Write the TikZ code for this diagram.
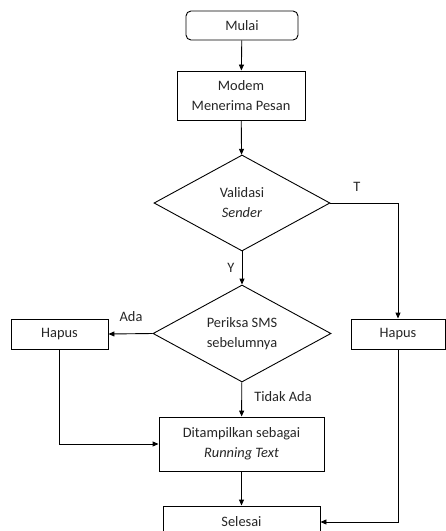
\documentclass[tikz,border=0pt]{standalone}
\usepackage{fontspec}
\setmainfont{Carlito}
\usetikzlibrary{shapes.geometric,arrows.meta}
\begin{document}
\begin{tikzpicture}[x=1pt,y=-1pt,
  every node/.style={font=\fontsize{14.4}{20}\selectfont, text=black!85},
  box/.style={draw, line width=0.9pt, inner sep=0pt, align=center},
  dia/.style={draw, line width=0.9pt, diamond, inner sep=0pt, align=center},
  lbl/.style={inner sep=0pt},
  link/.style={draw, line width=0.9pt, -{Triangle[length=6pt,width=5pt]}}]
\useasboundingbox (0,0) rectangle (446,531);
\clip (0,0) rectangle (446,531);
\node[box, rounded corners=5pt, minimum width=112pt, minimum height=29pt] (mulai) at (242,25.5) {Mulai};
\node[box, minimum width=128pt, minimum height=49pt] (modem) at (241,95.5) {Modem\\Menerima Pesan};
\node[dia, minimum width=176pt, minimum height=96pt, aspect=1.83] (val) at (242,203) {Validasi\\\textit{Sender}};
\node[dia, minimum width=178pt, minimum height=97pt, aspect=1.83] (periksa) at (242,333.5) {Periksa SMS\\sebelumnya};
\node[box, minimum width=97pt, minimum height=30pt] (hapusL) at (59.5,334) {Hapus};
\node[box, minimum width=94pt, minimum height=30pt] (hapusR) at (398,334) {Hapus};
\node[box, minimum width=165pt, minimum height=54pt] (tampil) at (241.5,444) {Ditampilkan sebagai\\\textit{Running Text}};
\node[box, minimum width=157pt, minimum height=32pt] (selesai) at (241.5,522) {Selesai};
\node[lbl] (lT) at (357,187) {T};
\node[lbl] (lY) at (231,268) {Y};
\node[lbl] (lAda) at (131,317) {Ada};
\node[lbl] (lTidak) at (283,397) {Tidak Ada};
\draw[link] (mulai) -- (modem);
\draw[link] (modem) -- (val);
\draw[link] (val) -- (periksa);
\draw[link] (val.east) -| (hapusR.north);
\draw[link] (periksa.west) -- (hapusL.east);
\draw[link] (periksa) -- (tampil);
\draw[link] (hapusL.south) |- (tampil.west);
\draw[link] (tampil) -- (selesai);
\draw[link] (hapusR.south) |- (selesai.east);
\end{tikzpicture}
\end{document}
